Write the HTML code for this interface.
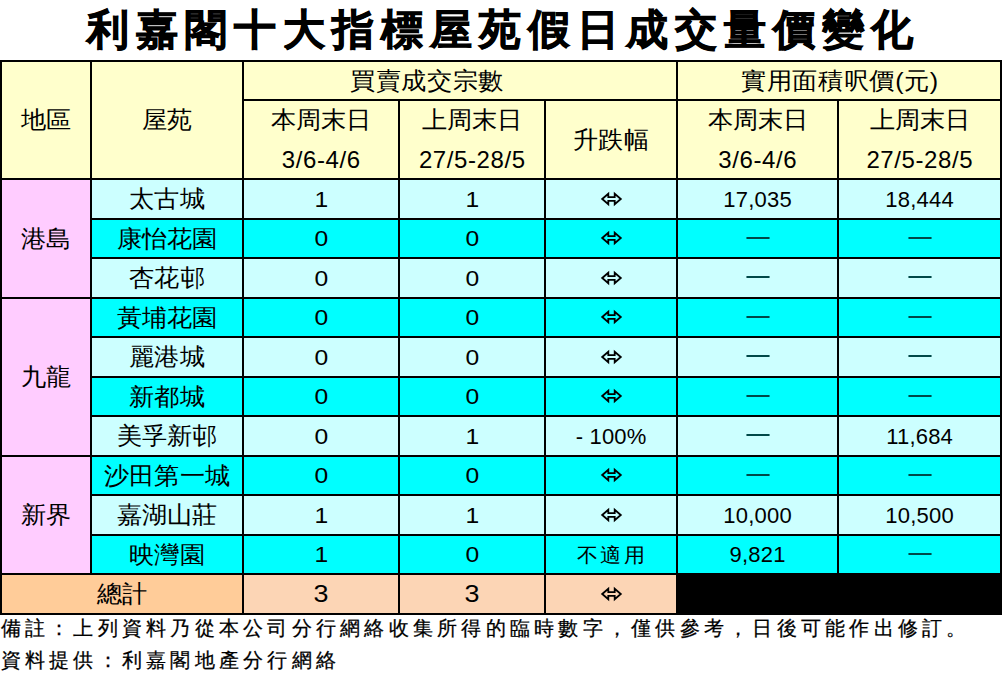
<!DOCTYPE html>
<html><head><meta charset="utf-8">
<style>
html,body{margin:0;padding:0;background:#fff;width:1006px;height:681px;overflow:hidden;position:relative}
body{font-family:"Liberation Sans",sans-serif;color:#000}
.r{position:absolute}
.t,.n,.t2{position:absolute;display:flex;align-items:center;justify-content:center;white-space:nowrap;font-size:24px;line-height:1}
.t{letter-spacing:0;text-indent:0}
.t>span{display:inline-block;transform:scaleX(1.05)}
.d{display:inline-block;transform:scaleX(1.12)}
.sm{font-size:20px;letter-spacing:2px;text-indent:2px}
.big{font-size:24px!important;padding-top:0!important}
.s15{letter-spacing:0.5px!important;text-indent:0.5px!important}
.n{font-size:22px;letter-spacing:0.2px;text-indent:0.2px;padding-top:1px;box-sizing:border-box}
.t2{flex-direction:column;justify-content:flex-start}
.ha{position:absolute;top:7px;left:0;right:0;text-align:center;font-size:24px;line-height:24px}
.ha>span{display:inline-block;transform:scaleX(1.05)}
.hb{position:absolute;top:47px;left:0;right:0;text-align:center;font-size:24px;line-height:24px;letter-spacing:0.6px;text-indent:0.6px}
.dash{display:inline-block;width:22px;height:2px;background:#004848;position:relative;top:-1px}
svg{display:block}
.title{position:absolute;left:0;top:4px;width:1006px;text-align:center;font-size:42px;font-weight:700;line-height:52px;letter-spacing:7px;text-indent:1px;-webkit-text-stroke:0.9px #000;white-space:nowrap}
.foot{position:absolute;left:0.5px;font-size:20px;line-height:24px;letter-spacing:4.25px;white-space:nowrap;-webkit-text-stroke:0.25px #000}
</style></head><body>
<div class="title">利嘉閣十大指標屋苑假日成交量價變化</div>
<div class="r" style="left:0px;top:60px;width:1002px;height:118px;background:#FFFFCC"></div><div class="r" style="left:90px;top:178px;width:912px;height:40px;background:#CCFFFF"></div><div class="r" style="left:90px;top:218px;width:912px;height:39px;background:#00FFFF"></div><div class="r" style="left:90px;top:257px;width:912px;height:40px;background:#CCFFFF"></div><div class="r" style="left:90px;top:297px;width:912px;height:39px;background:#00FFFF"></div><div class="r" style="left:90px;top:336px;width:912px;height:40px;background:#CCFFFF"></div><div class="r" style="left:90px;top:376px;width:912px;height:39px;background:#00FFFF"></div><div class="r" style="left:90px;top:415px;width:912px;height:40px;background:#CCFFFF"></div><div class="r" style="left:90px;top:455px;width:912px;height:39px;background:#00FFFF"></div><div class="r" style="left:90px;top:494px;width:912px;height:40px;background:#CCFFFF"></div><div class="r" style="left:90px;top:534px;width:912px;height:39px;background:#00FFFF"></div><div class="r" style="left:0px;top:178px;width:90px;height:395px;background:#FFCCFF"></div><div class="r" style="left:0px;top:573px;width:242px;height:40px;background:#FFCC99"></div><div class="r" style="left:242px;top:573px;width:434px;height:40px;background:#FCD5B5"></div><div class="r" style="left:676px;top:573px;width:326px;height:42px;background:#000"></div><div class="r" style="left:0px;top:60px;width:1002px;height:2px;background:#000"></div><div class="r" style="left:242px;top:99px;width:760px;height:2px;background:#000"></div><div class="r" style="left:0px;top:178px;width:1002px;height:2px;background:#000"></div><div class="r" style="left:90px;top:218px;width:912px;height:2px;background:#000"></div><div class="r" style="left:90px;top:257px;width:912px;height:2px;background:#000"></div><div class="r" style="left:0px;top:297px;width:1002px;height:2px;background:#000"></div><div class="r" style="left:90px;top:336px;width:912px;height:2px;background:#000"></div><div class="r" style="left:90px;top:376px;width:912px;height:2px;background:#000"></div><div class="r" style="left:90px;top:415px;width:912px;height:2px;background:#000"></div><div class="r" style="left:0px;top:455px;width:1002px;height:2px;background:#000"></div><div class="r" style="left:90px;top:494px;width:912px;height:2px;background:#000"></div><div class="r" style="left:90px;top:534px;width:912px;height:2px;background:#000"></div><div class="r" style="left:0px;top:573px;width:1002px;height:2px;background:#000"></div><div class="r" style="left:0px;top:613px;width:1002px;height:2px;background:#000"></div><div class="r" style="left:0px;top:60px;width:2px;height:555px;background:#000"></div><div class="r" style="left:1000px;top:60px;width:2px;height:555px;background:#000"></div><div class="r" style="left:90px;top:60px;width:2px;height:513px;background:#000"></div><div class="r" style="left:242px;top:60px;width:2px;height:553px;background:#000"></div><div class="r" style="left:676px;top:60px;width:2px;height:553px;background:#000"></div><div class="r" style="left:398px;top:99px;width:2px;height:514px;background:#000"></div><div class="r" style="left:544px;top:99px;width:2px;height:514px;background:#000"></div><div class="r" style="left:837px;top:99px;width:2px;height:514px;background:#000"></div><div class="t" style="left:2px;top:62px;width:88px;height:116px"><span>地區</span></div><div class="t" style="left:92px;top:62px;width:150px;height:116px"><span>屋苑</span></div><div class="t s15" style="left:244px;top:62px;width:366px;height:37px"><span>買賣成交宗數</span></div><div class="t s15" style="left:678px;top:62px;width:322px;height:37px"><span>實用面積呎價(元)</span></div><div class="t2" style="left:244px;top:101px;width:154px;height:77px"><div class="ha"><span>本周末日</span></div><div class="hb">3/6-4/6</div></div><div class="t2" style="left:400px;top:101px;width:144px;height:77px"><div class="ha"><span>上周末日</span></div><div class="hb">27/5-28/5</div></div><div class="t" style="left:546px;top:101px;width:130px;height:77px"><span>升跌幅</span></div><div class="t2" style="left:678px;top:101px;width:159px;height:77px"><div class="ha"><span>本周末日</span></div><div class="hb">3/6-4/6</div></div><div class="t2" style="left:839px;top:101px;width:161px;height:77px"><div class="ha"><span>上周末日</span></div><div class="hb">27/5-28/5</div></div><div class="t" style="left:2px;top:180px;width:88px;height:117px"><span>港島</span></div><div class="t" style="left:2px;top:299px;width:88px;height:156px"><span>九龍</span></div><div class="t" style="left:2px;top:457px;width:88px;height:116px"><span>新界</span></div><div class="t" style="left:92px;top:180px;width:150px;height:38px"><span>太古城</span></div><div class="n" style="left:244px;top:180px;width:154px;height:38px"><span class="d">1</span></div><div class="n" style="left:400px;top:180px;width:144px;height:38px"><span class="d">1</span></div><div class="t" style="left:546px;top:180px;width:130px;height:38px"><svg width="24" height="16" viewBox="0 0 24 16" style="position:relative;top:-0.3px;left:0.5px"><path d="M2.2 8 L8.3 2.7 L8.3 6.1 L14.7 6.1 L14.7 2.7 L20.8 8 L14.7 13.3 L14.7 9.8 L8.3 9.8 L8.3 13.3 Z" fill="none" stroke="#000" stroke-width="1.8" stroke-linejoin="miter" stroke-miterlimit="10"/></svg></div><div class="n" style="left:678px;top:180px;width:159px;height:38px">17,035</div><div class="n" style="left:839px;top:180px;width:161px;height:38px">18,444</div><div class="t" style="left:92px;top:220px;width:150px;height:37px"><span>康怡花園</span></div><div class="n" style="left:244px;top:220px;width:154px;height:37px"><span class="d">0</span></div><div class="n" style="left:400px;top:220px;width:144px;height:37px"><span class="d">0</span></div><div class="t" style="left:546px;top:220px;width:130px;height:37px"><svg width="24" height="16" viewBox="0 0 24 16" style="position:relative;top:-0.3px;left:0.5px"><path d="M2.2 8 L8.3 2.7 L8.3 6.1 L14.7 6.1 L14.7 2.7 L20.8 8 L14.7 13.3 L14.7 9.8 L8.3 9.8 L8.3 13.3 Z" fill="none" stroke="#000" stroke-width="1.8" stroke-linejoin="miter" stroke-miterlimit="10"/></svg></div><div class="t" style="left:678px;top:220px;width:159px;height:37px"><span class="dash"></span></div><div class="t" style="left:839px;top:220px;width:161px;height:37px"><span class="dash"></span></div><div class="t" style="left:92px;top:259px;width:150px;height:38px"><span>杏花邨</span></div><div class="n" style="left:244px;top:259px;width:154px;height:38px"><span class="d">0</span></div><div class="n" style="left:400px;top:259px;width:144px;height:38px"><span class="d">0</span></div><div class="t" style="left:546px;top:259px;width:130px;height:38px"><svg width="24" height="16" viewBox="0 0 24 16" style="position:relative;top:-0.3px;left:0.5px"><path d="M2.2 8 L8.3 2.7 L8.3 6.1 L14.7 6.1 L14.7 2.7 L20.8 8 L14.7 13.3 L14.7 9.8 L8.3 9.8 L8.3 13.3 Z" fill="none" stroke="#000" stroke-width="1.8" stroke-linejoin="miter" stroke-miterlimit="10"/></svg></div><div class="t" style="left:678px;top:259px;width:159px;height:38px"><span class="dash"></span></div><div class="t" style="left:839px;top:259px;width:161px;height:38px"><span class="dash"></span></div><div class="t" style="left:92px;top:299px;width:150px;height:37px"><span>黃埔花園</span></div><div class="n" style="left:244px;top:299px;width:154px;height:37px"><span class="d">0</span></div><div class="n" style="left:400px;top:299px;width:144px;height:37px"><span class="d">0</span></div><div class="t" style="left:546px;top:299px;width:130px;height:37px"><svg width="24" height="16" viewBox="0 0 24 16" style="position:relative;top:-0.3px;left:0.5px"><path d="M2.2 8 L8.3 2.7 L8.3 6.1 L14.7 6.1 L14.7 2.7 L20.8 8 L14.7 13.3 L14.7 9.8 L8.3 9.8 L8.3 13.3 Z" fill="none" stroke="#000" stroke-width="1.8" stroke-linejoin="miter" stroke-miterlimit="10"/></svg></div><div class="t" style="left:678px;top:299px;width:159px;height:37px"><span class="dash"></span></div><div class="t" style="left:839px;top:299px;width:161px;height:37px"><span class="dash"></span></div><div class="t" style="left:92px;top:338px;width:150px;height:38px"><span>麗港城</span></div><div class="n" style="left:244px;top:338px;width:154px;height:38px"><span class="d">0</span></div><div class="n" style="left:400px;top:338px;width:144px;height:38px"><span class="d">0</span></div><div class="t" style="left:546px;top:338px;width:130px;height:38px"><svg width="24" height="16" viewBox="0 0 24 16" style="position:relative;top:-0.3px;left:0.5px"><path d="M2.2 8 L8.3 2.7 L8.3 6.1 L14.7 6.1 L14.7 2.7 L20.8 8 L14.7 13.3 L14.7 9.8 L8.3 9.8 L8.3 13.3 Z" fill="none" stroke="#000" stroke-width="1.8" stroke-linejoin="miter" stroke-miterlimit="10"/></svg></div><div class="t" style="left:678px;top:338px;width:159px;height:38px"><span class="dash"></span></div><div class="t" style="left:839px;top:338px;width:161px;height:38px"><span class="dash"></span></div><div class="t" style="left:92px;top:378px;width:150px;height:37px"><span>新都城</span></div><div class="n" style="left:244px;top:378px;width:154px;height:37px"><span class="d">0</span></div><div class="n" style="left:400px;top:378px;width:144px;height:37px"><span class="d">0</span></div><div class="t" style="left:546px;top:378px;width:130px;height:37px"><svg width="24" height="16" viewBox="0 0 24 16" style="position:relative;top:-0.3px;left:0.5px"><path d="M2.2 8 L8.3 2.7 L8.3 6.1 L14.7 6.1 L14.7 2.7 L20.8 8 L14.7 13.3 L14.7 9.8 L8.3 9.8 L8.3 13.3 Z" fill="none" stroke="#000" stroke-width="1.8" stroke-linejoin="miter" stroke-miterlimit="10"/></svg></div><div class="t" style="left:678px;top:378px;width:159px;height:37px"><span class="dash"></span></div><div class="t" style="left:839px;top:378px;width:161px;height:37px"><span class="dash"></span></div><div class="t" style="left:92px;top:417px;width:150px;height:38px"><span>美孚新邨</span></div><div class="n" style="left:244px;top:417px;width:154px;height:38px"><span class="d">0</span></div><div class="n" style="left:400px;top:417px;width:144px;height:38px"><span class="d">1</span></div><div class="n" style="left:546px;top:417px;width:130px;height:38px">- 100%</div><div class="t" style="left:678px;top:417px;width:159px;height:38px"><span class="dash"></span></div><div class="n" style="left:839px;top:417px;width:161px;height:38px">11,684</div><div class="t" style="left:92px;top:457px;width:150px;height:37px"><span>沙田第一城</span></div><div class="n" style="left:244px;top:457px;width:154px;height:37px"><span class="d">0</span></div><div class="n" style="left:400px;top:457px;width:144px;height:37px"><span class="d">0</span></div><div class="t" style="left:546px;top:457px;width:130px;height:37px"><svg width="24" height="16" viewBox="0 0 24 16" style="position:relative;top:-0.3px;left:0.5px"><path d="M2.2 8 L8.3 2.7 L8.3 6.1 L14.7 6.1 L14.7 2.7 L20.8 8 L14.7 13.3 L14.7 9.8 L8.3 9.8 L8.3 13.3 Z" fill="none" stroke="#000" stroke-width="1.8" stroke-linejoin="miter" stroke-miterlimit="10"/></svg></div><div class="t" style="left:678px;top:457px;width:159px;height:37px"><span class="dash"></span></div><div class="t" style="left:839px;top:457px;width:161px;height:37px"><span class="dash"></span></div><div class="t" style="left:92px;top:496px;width:150px;height:38px"><span>嘉湖山莊</span></div><div class="n" style="left:244px;top:496px;width:154px;height:38px"><span class="d">1</span></div><div class="n" style="left:400px;top:496px;width:144px;height:38px"><span class="d">1</span></div><div class="t" style="left:546px;top:496px;width:130px;height:38px"><svg width="24" height="16" viewBox="0 0 24 16" style="position:relative;top:-0.3px;left:0.5px"><path d="M2.2 8 L8.3 2.7 L8.3 6.1 L14.7 6.1 L14.7 2.7 L20.8 8 L14.7 13.3 L14.7 9.8 L8.3 9.8 L8.3 13.3 Z" fill="none" stroke="#000" stroke-width="1.8" stroke-linejoin="miter" stroke-miterlimit="10"/></svg></div><div class="n" style="left:678px;top:496px;width:159px;height:38px">10,000</div><div class="n" style="left:839px;top:496px;width:161px;height:38px">10,500</div><div class="t" style="left:92px;top:536px;width:150px;height:37px"><span>映灣園</span></div><div class="n" style="left:244px;top:536px;width:154px;height:37px"><span class="d">1</span></div><div class="n" style="left:400px;top:536px;width:144px;height:37px"><span class="d">0</span></div><div class="t sm" style="left:546px;top:536px;width:130px;height:37px"><span>不適用</span></div><div class="n" style="left:678px;top:536px;width:159px;height:37px">9,821</div><div class="t" style="left:839px;top:536px;width:161px;height:37px"><span class="dash"></span></div><div class="t" style="left:2px;top:575px;width:240px;height:38px"><span>總計</span></div><div class="n big" style="left:244px;top:575px;width:154px;height:38px"><span class="d">3</span></div><div class="n big" style="left:400px;top:575px;width:144px;height:38px"><span class="d">3</span></div><div class="t" style="left:546px;top:575px;width:130px;height:38px"><svg width="24" height="16" viewBox="0 0 24 16" style="position:relative;top:-0.3px;left:0.5px"><path d="M2.2 8 L8.3 2.7 L8.3 6.1 L14.7 6.1 L14.7 2.7 L20.8 8 L14.7 13.3 L14.7 9.8 L8.3 9.8 L8.3 13.3 Z" fill="none" stroke="#000" stroke-width="1.8" stroke-linejoin="miter" stroke-miterlimit="10"/></svg></div>
<div class="foot" style="top:616px">備註：上列資料乃從本公司分行網絡收集所得的臨時數字，僅供參考，日後可能作出修訂。</div>
<div class="foot" style="top:648px">資料提供：利嘉閣地產分行網絡</div>
</body></html>
